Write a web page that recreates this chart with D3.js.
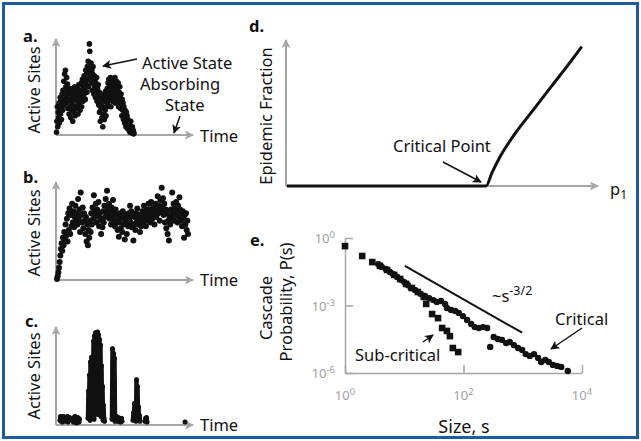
<!DOCTYPE html>
<html>
<head>
<meta charset="utf-8">
<script src="https://d3js.org/d3.v7.min.js"></script>
<style>
  body { margin: 0; background: #fff; }
  svg { display: block; font-family: "Noto Sans", "DejaVu Sans", sans-serif; }
</style>
</head>
<body>
<svg id="chart" width="641" height="441"></svg>
<script>
// ---- data ----
// a. active sites over time (0-100 = axis height), one value per time step
const activeA = [
  2, 14, 30, 8, 24,
  18, 34, 12, 28, 40, 22, 36, 16, 30, 44,
  26, 48, 38, 58, 32, 66, 45, 70, 52, 40, 62, 35, 55, 28, 48,
  38, 22, 44, 30, 50, 18, 36, 46, 26, 40, 14, 32, 48, 24, 38, 52, 20, 42, 30, 46,
  28, 50, 36, 22, 44, 54, 32, 40, 26, 48, 38, 56, 30, 46, 60, 36, 52,
  42, 64, 50, 58, 38, 70, 55, 66, 46, 74, 60, 80, 52, 68, 99, 91, 72,
  62, 78, 56, 70, 48, 66, 74, 58, 44, 64, 52, 60, 40, 56, 46, 62, 36, 50, 42, 54,
  32, 46, 24, 40, 14, 34, 28, 44, 18, 38, 8, 30, 22, 42, 16, 36, 26, 47, 20, 40, 30, 50,
  34, 56, 42, 60, 38, 52, 46, 62, 30, 54, 44, 58, 36, 50, 60, 40, 55, 48, 62, 34, 52, 44, 58, 38, 50, 42, 56, 30, 46, 36, 52, 40,
  28, 44, 32, 20, 38, 26, 34, 16, 30, 22, 12, 26, 18, 8, 24, 14, 20, 6, 16, 10,
  12, 4, 9, 2, 7, 14, 3, 5, 1, 8, 2, 4, 0, 1
];

// b. active sites, sustained activity
const activeB = [
  0, 3, 7, 12, 18, 25, 32, 38, 30, 44,
  36, 50, 42, 58, 46, 64, 40, 70, 52, 75,
  48, 68, 56, 80, 60, 72, 55, 66, 78, 62,
  70, 58, 85, 64, 74, 50, 92, 68, 60, 76,
  54, 70, 62, 48, 66, 40, 58, 36, 52, 44,
  62, 50, 70, 58, 76, 64, 89, 72, 66, 80,
  60, 74, 68, 82, 56, 70, 64, 48, 62, 55,
  72, 60, 78, 66, 85, 70, 94, 75, 68, 80,
  64, 72, 58, 76, 66, 84, 62, 70, 56, 74,
  60, 68, 52, 64, 45, 60, 70, 54, 66, 50,
  72, 58, 64, 42, 60, 68, 48, 62, 56, 70,
  64, 78, 60, 72, 55, 68, 41, 58, 66, 52,
  70, 60, 75, 64, 58, 68, 50, 62, 56, 66,
  72, 60, 78, 64, 70, 56, 74, 62, 68, 80,
  66, 74, 60, 82, 70, 64, 76, 68, 58, 72,
  80, 66, 74, 88, 70, 78, 62, 84, 72, 97,
  76, 86, 68, 80, 60, 74, 54, 70, 48, 62,
  41, 66, 58, 74, 64, 92, 70, 80, 62, 76,
  68, 82, 72, 60, 78, 66, 87, 74, 62, 70,
  56, 72, 64, 44, 68, 58, 70, 52, 62, 48
];

// c. bursts of activity: start time and the samples of each burst
const burstStartC = [3, 9, 16, 31, 55, 76, 88, 128];
const burstSitesC = [
  [4, 8, 3, 7, 5, 2, 6, 8],
  [3, 7, 5, 8, 2, 6, 4, 7],
  [5, 2, 7, 4, 8, 3, 6, 1, 5, 7, 3, 6, 2, 5],
  [6, 35, 10, 52, 4, 66, 15, 71, 8, 60, 20, 88, 5, 94, 30, 97, 12, 92,
   25, 98, 10, 95, 40, 90, 18, 84, 8, 62, 15, 40, 4, 20, 6, 3],
  [5, 80, 60, 75, 10, 70, 3, 6, 4, 8, 5, 3, 7, 4, 6, 3, 5, 2, 4, 6, 3],
  [4, 12, 6, 22, 8, 15, 3, 47, 20, 40, 10, 18, 5, 9, 3],
  [3, 6, 4, 7, 2],
  [2]
];

// d. epidemic fraction vs p1
const epidemicP1   = [0.003, 0.641, 0.66, 0.686, 0.728, 0.792, 0.856, 0.90, 0.948];
const epidemicFrac = [0, 0, 0.09, 0.20, 0.34, 0.52, 0.697, 0.818, 0.955];

// e. cascade size distributions (log10 s, log10 P)
const subLogS = [0, 0.29, 0.46, 0.59, 0.71, 0.83, 0.93, 1.03, 1.13, 1.23, 1.33, 1.37, 1.47, 1.57, 1.64, 1.72, 1.77, 1.82, 1.91];
const subLogP = [-0.36, -0.80, -1.07, -1.24, -1.42, -1.64, -1.82, -2.04, -2.22, -2.40, -2.62, -2.93, -3.38, -3.56, -4.0, -4.13, -4.36, -4.89, -5.07];
const critLogS = [0.56, 0.62, 0.69, 0.76, 0.81, 0.88, 0.95, 1.0, 1.06, 1.11, 1.18, 1.23, 1.28, 1.35, 1.42, 1.49,
  1.55, 1.62, 1.69, 1.72, 1.79, 1.86, 1.92, 1.99, 2.06, 2.13, 2.19, 2.26, 2.33, 2.40, 2.45, 2.51, 2.58, 2.65,
  2.72, 2.78, 2.85, 2.92, 2.99, 3.05, 3.12, 3.19, 3.26, 3.31, 3.38, 3.44, 3.51, 3.58, 3.65, 3.76];
const critLogP = [-1.16, -1.29, -1.38, -1.51, -1.60, -1.73, -1.87, -1.96, -2.09, -2.22, -2.31, -2.40, -2.49, -2.58, -2.67, -2.76,
  -2.84, -2.80, -2.93, -3.11, -3.20, -3.24, -3.33, -3.47, -3.64, -3.82, -3.96, -4.0, -3.96, -4.0, -4.84, -4.4, -4.49, -4.53,
  -4.67, -4.62, -4.76, -4.89, -4.98, -5.16, -5.24, -5.16, -5.33, -5.51, -5.42, -5.51, -5.64, -5.69, -5.73, -5.91];
const guideLogS = [1.01, 2.99];
const guideLogP = [-1.24, -4.21];
const yTickExp = [0, -3, -6];
const xTickExp = [0, 2, 4];

// ---- drawing ----
const svg = d3.select("#chart");
const AX = "#a6a6a6", INK = "#111";

const defs = svg.append("defs");
function marker(id, color, size) {
  defs.append("marker")
      .attr("id", id)
      .attr("markerUnits", "userSpaceOnUse")
      .attr("markerWidth", size).attr("markerHeight", size)
      .attr("viewBox", "0 0 10 10")
      .attr("refX", 9).attr("refY", 5)
      .attr("orient", "auto")
    .append("path")
      .attr("d", "M0,0 L10,5 L0,10 L2.5,5 Z")
      .attr("fill", color);
}
marker("grayArrow", AX, 9);
marker("blackArrow", INK, 9);

svg.append("rect")
    .attr("x", 3.5).attr("y", 3.5)
    .attr("width", 634).attr("height", 434)
    .attr("fill", "none")
    .attr("stroke", "#1f5c9e")
    .attr("stroke-width", 3);

function text(x, y, str, opts) {
  opts = opts || {};
  const t = svg.append("text")
      .attr("x", x).attr("y", y)
      .attr("fill", opts.fill || INK)
      .style("font-size", (opts.size || 16.5) + "px")
      .text(str);
  if (opts.bold) t.style("font-weight", "bold");
  if (opts.anchor) t.attr("text-anchor", opts.anchor);
  return t;
}
function vtext(cx, cy, str) {
  svg.append("text")
      .attr("transform", "translate(" + cx + "," + cy + ") rotate(-90)")
      .attr("text-anchor", "middle")
      .attr("dominant-baseline", "central")
      .attr("fill", INK)
      .style("font-size", "16.5px")
      .text(str);
}
function arrow(x1, y1, x2, y2) {
  svg.append("line")
      .attr("x1", x1).attr("y1", y1).attr("x2", x2).attr("y2", y2)
      .attr("stroke", INK).attr("stroke-width", 1.5)
      .attr("marker-end", "url(#blackArrow)");
}
function arrowAxes(x, y, right, top) {
  svg.append("line")
      .attr("x1", x).attr("y1", y).attr("x2", x).attr("y2", top)
      .attr("stroke", AX).attr("stroke-width", 2)
      .attr("marker-end", "url(#grayArrow)");
  svg.append("line")
      .attr("x1", x).attr("y1", y).attr("x2", right).attr("y2", y)
      .attr("stroke", AX).attr("stroke-width", 2)
      .attr("marker-end", "url(#grayArrow)");
}

// panel a
const xA = d3.scaleLinear().domain([0, activeA.length - 1]).range([56.5, 134]);
const yA = d3.scaleLinear().domain([0, 100]).range([134, 43]);
arrowAxes(56, yA(0) + 1, 193, 39);
svg.append("g").selectAll("circle").data(activeA).join("circle")
    .attr("cx", (d, i) => xA(i)).attr("cy", d => yA(d))
    .attr("r", 2.8).attr("fill", INK);
text(23, 42, "a.", {bold: true});
vtext(33, 90, "Active Sites");
text(200, 142, "Time");
text(142, 69, "Active State");
text(140, 90, "Absorbing");
text(165, 111, "State");
arrow(137, 59, 103, 66);
arrow(180, 116, 174, 133);

// panel b
const xB = d3.scaleLinear().domain([0, activeB.length - 1]).range([57, 188]);
const yB = d3.scaleLinear().domain([0, 100]).range([279, 185]);
arrowAxes(56, 280, 193, 182);
svg.append("g").selectAll("circle").data(activeB).join("circle")
    .attr("cx", (d, i) => xB(i)).attr("cy", d => yB(d))
    .attr("r", 3).attr("fill", INK);
text(23, 183, "b.", {bold: true});
vtext(33, 233, "Active Sites");
text(200, 286, "Time");

// panel c
const xC = d3.scaleLinear().domain([0, 130]).range([57, 187]);
const yC = d3.scaleLinear().domain([0, 100]).range([424, 330]);
arrowAxes(56, 425, 193, 327);
const bursts = burstStartC.map((s, k) => burstSitesC[k].map((v, j) => ({t: s + j * 0.5, v: v})));
const lineC = d3.line().x(d => xC(d.t)).y(d => yC(d.v));
const gC = svg.append("g");
gC.selectAll("path").data(bursts).join("path")
    .attr("d", lineC)
    .attr("fill", "none").attr("stroke", INK)
    .attr("stroke-width", 4.5)
    .attr("stroke-linejoin", "round").attr("stroke-linecap", "round");
gC.selectAll("circle").data(bursts.flat()).join("circle")
    .attr("cx", d => xC(d.t)).attr("cy", d => yC(d.v))
    .attr("r", 2.5).attr("fill", INK);
text(25, 327, "c.", {bold: true});
vtext(33, 376, "Active Sites");
text(200, 431, "Time");

// panel d
const xD = d3.scaleLinear().domain([0, 1]).range([286, 598]);
const yD = d3.scaleLinear().domain([0, 1]).range([186, 40]);
arrowAxes(286, 186, 598, 40);
svg.append("path")
    .datum(epidemicP1.map((p, i) => [p, epidemicFrac[i]]))
    .attr("d", d3.line().x(d => xD(d[0])).y(d => yD(d[1])).curve(d3.curveMonotoneX))
    .attr("fill", "none").attr("stroke", INK).attr("stroke-width", 3);
text(249, 32, "d.", {bold: true});
vtext(265, 116, "Epidemic Fraction");
const p1 = text(610, 195, "p");
p1.append("tspan").attr("dy", 4).style("font-size", "12px").text("1");
text(393, 152, "Critical Point");
arrow(443, 162, 481, 182);

// panel e
const xE = d3.scaleLog().domain([1, 1e4]).range([345, 582]);
const yE = d3.scaleLog().domain([1e-6, 1]).range([373, 238]);
const gE = svg.append("g");
gE.append("g")
    .attr("transform", "translate(0," + yE(1e-6) + ")")
    .call(d3.axisBottom(xE).tickValues(xTickExp.map(e => Math.pow(10, e))).tickFormat("").tickSize(-8).tickSizeOuter(0));
gE.append("g")
    .attr("transform", "translate(" + xE(1) + ",0)")
    .call(d3.axisLeft(yE).tickValues(yTickExp.map(e => Math.pow(10, e))).tickFormat("").tickSize(-8).tickSizeOuter(0));
gE.selectAll(".domain, .tick line").attr("stroke", AX).attr("stroke-width", 1.5);

function powLabel(x, y, e, anchor) {
  const t = text(x, y, "10", {size: 13, fill: "#a0a0a0", anchor: anchor});
  t.append("tspan").attr("dy", -5).style("font-size", "9.5px").text(e);
}
yTickExp.forEach(e => powLabel(335, yE(Math.pow(10, e)) + 5, e, "end"));
xTickExp.forEach(e => powLabel(xE(Math.pow(10, e)), 400, e, "middle"));

svg.append("line")
    .attr("x1", xE(Math.pow(10, guideLogS[0]))).attr("y1", yE(Math.pow(10, guideLogP[0])))
    .attr("x2", xE(Math.pow(10, guideLogS[1]))).attr("y2", yE(Math.pow(10, guideLogP[1])))
    .attr("stroke", INK).attr("stroke-width", 2);

svg.append("g").selectAll("rect").data(subLogS).join("rect")
    .attr("x", (d) => xE(Math.pow(10, d)) - 3.3)
    .attr("y", (d, i) => yE(Math.pow(10, subLogP[i])) - 3.3)
    .attr("width", 6.6).attr("height", 6.6)
    .attr("fill", INK);
svg.append("g").selectAll("circle").data(critLogS).join("circle")
    .attr("cx", d => xE(Math.pow(10, d)))
    .attr("cy", (d, i) => yE(Math.pow(10, critLogP[i])))
    .attr("r", 3.2).attr("fill", INK);

text(250, 246, "e.", {bold: true});
vtext(265, 308, "Cascade");
vtext(285, 302, "Probability, P(s)");
text(464, 433, "Size, s", {anchor: "middle", size: 18});
const pl = text(492, 302, "~s");
pl.append("tspan").attr("dy", -7).style("font-size", "12.5px").text("-3/2");
text(555, 325, "Critical");
arrow(582, 328, 551, 349);
text(355, 361, "Sub-critical");
arrow(423, 342, 433, 335);
</script>
</body>
</html>
